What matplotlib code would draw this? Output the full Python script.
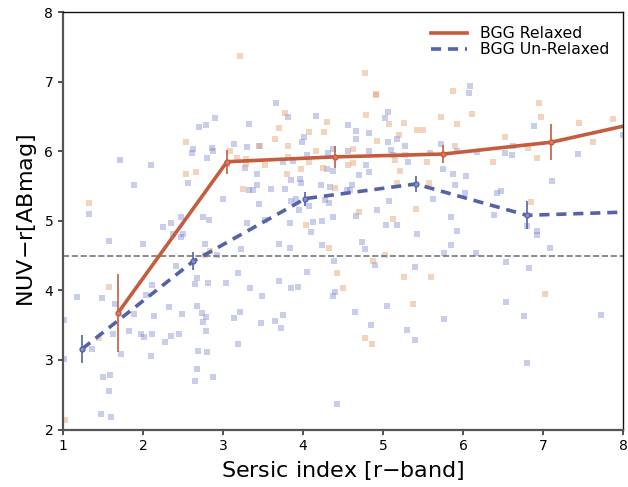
import numpy as np
import matplotlib
matplotlib.use("Agg")
import matplotlib.pyplot as plt

# binned medians (relaxed / un-relaxed BGGs)
relax_x = [1.69, 3.05, 4.40, 5.75, 7.10]
relax_y = [3.68, 5.85, 5.92, 5.96, 6.13]
relax_err = [0.56, 0.17, 0.16, 0.13, 0.26]
relax_line_x = [1.69, 3.05, 4.40, 5.75, 7.10, 8.0]
relax_line_y = [3.68, 5.85, 5.92, 5.96, 6.13, 6.36]

unrel_x = [1.24, 2.63, 4.03, 5.41, 6.80]
unrel_y = [3.16, 4.42, 5.32, 5.53, 5.08]
unrel_err = [0.20, 0.13, 0.10, 0.12, 0.20]
unrel_line_x = [1.24, 2.63, 4.03, 5.41, 6.80, 8.0]
unrel_line_y = [3.16, 4.42, 5.32, 5.53, 5.08, 5.125]

# individual galaxies
relax_n = [3.21, 1.33, 2.54, 2.54, 2.66, 3.77, 3.70, 3.65, 3.81, 3.81, 3.80, 3.09, 3.17, 3.29,
           3.29, 3.53, 4.08, 4.16, 4.26, 4.30, 3.98, 4.08, 4.25, 4.40, 4.56, 3.25, 3.46, 4.77,
           4.91, 4.91, 4.79, 5.07, 5.26, 5.20, 5.43, 5.50, 4.93, 4.62, 4.63, 5.15, 5.28, 5.21,
           5.55, 5.18, 5.58, 5.73, 5.88, 5.93, 6.11, 5.90, 6.53, 6.37, 6.81, 6.95, 6.97, 6.93,
           7.45, 7.63, 7.88, 4.70, 5.41, 5.12, 6.85, 1.58, 1.45, 1.02, 4.04, 4.33, 4.42, 4.50,
           2.84, 2.77, 5.02, 4.87, 5.26, 5.60, 5.37, 4.77, 4.86, 7.03]
relax_c = [7.37, 5.25, 6.13, 5.67, 5.70, 6.55, 6.33, 6.17, 6.07, 5.92, 5.68, 6.01, 5.91, 5.89,
           5.82, 5.80, 6.28, 6.01, 6.28, 6.42, 5.75, 5.85, 5.76, 5.47, 5.80, 5.46, 6.07, 7.13,
           6.81, 6.82, 6.52, 6.39, 6.41, 6.24, 6.30, 6.31, 6.15, 6.03, 5.83, 5.88, 5.95, 5.72,
           5.85, 5.55, 5.55, 6.50, 6.86, 6.39, 6.54, 6.07, 6.21, 5.84, 6.05, 6.69, 6.49, 5.91,
           6.41, 6.14, 6.46, 5.13, 5.17, 5.02, 5.27, 4.05, 3.32, 2.14, 4.94, 4.61, 4.25, 4.04,
           4.56, 4.51, 4.51, 4.42, 4.20, 4.19, 3.80, 3.31, 3.23, 3.95]

unrel_n = [1.71, 2.10, 1.89, 1.33, 2.70, 2.79, 2.90, 3.32, 3.66, 3.81, 4.16, 4.56, 2.62, 2.61,
           2.86, 2.88, 2.80, 3.14, 3.30, 3.45, 3.05, 3.28, 3.42, 3.42, 3.33, 3.38, 3.60, 3.78,
           3.75, 3.87, 4.01, 3.99, 4.05, 4.31, 4.37, 4.56, 4.30, 4.38, 3.85, 3.96, 3.98, 4.23,
           4.34, 2.56, 3.00, 3.45, 3.85, 3.91, 3.95, 4.08, 4.27, 4.33, 4.37, 2.48, 2.75, 2.82,
           4.59, 4.66, 4.66, 4.83, 5.06, 5.03, 5.06, 5.18, 4.82, 5.10, 5.28, 5.12, 5.59, 5.73,
           5.93, 6.18, 6.53, 6.61, 6.63, 6.89, 6.09, 6.08, 4.79, 4.82, 4.70, 5.31, 5.75, 5.88,
           5.90, 6.02, 6.04, 4.61, 4.55, 5.08, 4.92, 4.66, 5.63, 5.85, 6.39, 6.42, 6.48, 7.11,
           7.44, 8.00, 1.18, 1.01, 1.01, 1.49, 1.57, 1.65, 1.36, 1.62, 1.50, 1.59, 1.58, 1.48,
           1.60, 1.73, 1.82, 1.89, 2.00, 2.04, 1.98, 2.01, 2.11, 2.10, 2.11, 2.14, 2.25, 2.35,
           2.38, 2.48, 2.50, 2.41, 2.32, 2.49, 2.45, 2.35, 2.28, 2.65, 2.67, 2.77, 2.81, 2.67,
           2.74, 2.79, 2.75, 2.79, 2.69, 2.80, 2.67, 2.65, 2.88, 2.93, 3.04, 3.19, 3.22, 3.30,
           3.34, 3.21, 3.14, 3.19, 3.53, 3.49, 3.48, 3.70, 3.70, 3.65, 3.75, 3.73, 3.84, 3.84,
           3.85, 3.94, 4.05, 4.10, 4.12, 4.24, 4.24, 4.39, 4.40, 4.37, 4.43, 5.04, 5.18, 5.43,
           5.93, 4.74, 4.77, 4.90, 5.76, 5.85, 6.16, 6.54, 5.40, 6.80, 6.92, 6.93, 7.09, 6.82,
           6.54, 6.76, 7.73, 5.05, 4.65, 4.85, 5.30, 5.40, 5.76, 6.80]
unrel_c = [5.88, 5.80, 5.51, 5.10, 6.35, 6.38, 6.48, 6.39, 6.70, 6.49, 6.51, 6.38, 6.04, 5.97,
           6.05, 6.01, 5.91, 6.10, 6.06, 6.08, 5.82, 5.76, 5.67, 5.52, 5.45, 5.44, 5.46, 5.46,
           5.85, 5.86, 6.20, 6.14, 5.95, 5.98, 6.04, 6.00, 5.74, 5.71, 5.59, 5.60, 5.54, 5.51,
           5.48, 5.55, 5.32, 5.24, 5.28, 5.31, 5.16, 5.22, 5.30, 5.25, 5.05, 5.05, 5.05, 5.01,
           5.45, 6.29, 6.18, 6.27, 6.56, 6.48, 6.14, 6.18, 6.01, 6.02, 6.07, 5.94, 5.97, 6.11,
           6.01, 5.99, 5.97, 5.95, 6.08, 6.36, 6.94, 6.84, 5.80, 5.70, 5.66, 5.84, 5.75, 5.68,
           5.51, 5.40, 5.64, 5.52, 5.44, 5.29, 5.16, 5.07, 5.32, 5.05, 5.08, 5.40, 5.43, 5.58,
           5.96, 6.23, 3.91, 3.58, 3.01, 3.89, 4.71, 3.81, 3.16, 3.38, 2.76, 2.79, 2.56, 2.22,
           2.18, 3.08, 3.42, 3.66, 4.67, 3.93, 3.38, 3.33, 3.38, 3.05, 4.08, 3.63, 4.91, 4.97,
           4.81, 4.77, 4.81, 4.35, 3.76, 3.66, 3.37, 3.34, 3.26, 4.09, 4.18, 4.67, 4.10, 3.77,
           3.67, 3.62, 3.55, 3.41, 3.13, 3.11, 2.87, 2.70, 2.76, 4.51, 4.11, 4.25, 4.59, 4.97,
           4.04, 3.69, 3.60, 3.23, 5.01, 3.92, 3.53, 4.67, 4.13, 3.56, 3.64, 3.46, 4.97, 4.61,
           4.04, 4.05, 4.26, 4.84, 4.99, 4.65, 5.00, 4.42, 3.98, 3.92, 2.37, 4.94, 4.94, 4.81,
           4.86, 4.69, 4.59, 4.36, 4.54, 4.65, 4.54, 4.41, 4.33, 4.92, 4.85, 4.79, 4.61, 4.32,
           3.84, 3.63, 3.64, 3.78, 3.69, 3.50, 3.43, 3.29, 3.59, 2.95]

red = '#c45c3e'
blue = '#5462a8'

fig = plt.figure(figsize=(6.28, 4.87), dpi=100)
ax = fig.add_axes([0.1003, 0.118, 0.8917, 0.857])

ax.scatter(unrel_n, unrel_c, marker='s', s=16, color='#7f88d2', alpha=0.42, linewidths=0)
ax.scatter(relax_n, relax_c, marker='s', s=16, color='#e29a66', alpha=0.42, linewidths=0)

ax.axhline(4.5, color='#777777', ls='--', lw=1.2)

ax.plot(relax_line_x, relax_line_y, color=red, lw=2.6, label='BGG Relaxed')
ax.errorbar(relax_x, relax_y, yerr=relax_err, fmt='o', ms=3.5, color=red, mfc='#e07a66',
            mew=1, elinewidth=1.2, capsize=0)
ax.plot(unrel_line_x, unrel_line_y, color=blue, lw=2.6, ls='--', dashes=(2.8, 1.9),
        label='BGG Un-Relaxed')
ax.errorbar(unrel_x, unrel_y, yerr=unrel_err, fmt='o', ms=3.5, color=blue, mfc='#8790cc',
            mew=1, elinewidth=1.2, capsize=0)

ax.set_xlim(1, 8)
ax.set_ylim(2, 8)
ax.set_xlabel('Sersic index [r$-$band]', fontsize=16)
ax.set_ylabel('NUV$-$r[ABmag]', fontsize=16)
ax.tick_params(labelsize=10, width=1.2, length=3.5, color='#333333')
for side in ['left', 'bottom']:
    ax.spines[side].set_color('#555555')
    ax.spines[side].set_linewidth(1.6)
for side in ['top', 'right']:
    ax.spines[side].set_color('#111111')
    ax.spines[side].set_linewidth(1.0)

ax.legend(loc='upper right', frameon=False, fontsize=11.3, handlelength=2.3,
          labelspacing=0.05)

plt.savefig('out.png', dpi=100)
